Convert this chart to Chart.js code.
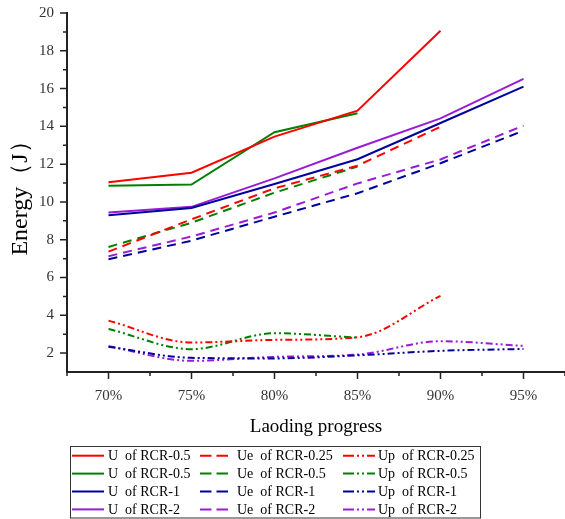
<!DOCTYPE html>
<html>
<head>
<title>Energy vs loading progress</title>
<script src="https://cdn.jsdelivr.net/npm/chart.js"></script>
<style>
    body {
        margin: 0;
        background: #fff;
    }
    #chart-box {
        width: 565px;
        height: 519px;
    }
</style>
</head>
<body>

<div id="chart-box">
    <canvas id="energyChart" width="565" height="519"></canvas>
</div>

<script>
    const labels = ['70%', '75%', '80%', '85%', '90%', '95%'];
    const yTicks = [2, 4, 6, 8, 10, 12, 14, 16, 18, 20];

    // total energy U
    const uRcr025 = [11.04, 11.55, 13.46, 14.83, 19.06];
    const uRcr05 = [10.86, 10.92, 13.69, 14.69];
    const uRcr1 = [9.30, 9.68, 10.95, 12.26, 14.18, 16.10];
    const uRcr2 = [9.44, 9.74, 11.25, 12.87, 14.42, 16.51];

    // elastic energy Ue
    const ueRcr025 = [7.37, 9.08, 10.72, 11.92, 13.98];
    const ueRcr05 = [7.62, 8.90, 10.49, 11.87];
    const ueRcr1 = [6.97, 7.95, 9.22, 10.46, 12.05, 13.77];
    const ueRcr2 = [7.13, 8.17, 9.44, 10.98, 12.25, 14.04];

    // dissipated energy Up
    const upRcr025 = [3.72, 2.56, 2.70, 2.84, 5.03];
    const upRcr05 = [3.28, 2.21, 3.05, 2.82];
    const upRcr1 = [2.34, 1.75, 1.72, 1.88, 2.12, 2.22];
    const upRcr2 = [2.36, 1.59, 1.80, 1.92, 2.63, 2.38];

    const legendNames = [
        'U  of RCR-0.5', 'U  of RCR-0.5', 'U  of RCR-1', 'U  of RCR-2',
        'Ue  of RCR-0.25', 'Ue  of RCR-0.5', 'Ue  of RCR-1', 'Ue  of RCR-2',
        'Up  of RCR-0.25', 'Up  of RCR-0.5', 'Up  of RCR-1', 'Up  of RCR-2'
    ];
    const seriesData = [
        uRcr025, uRcr05, uRcr1, uRcr2,
        ueRcr025, ueRcr05, ueRcr1, ueRcr2,
        upRcr025, upRcr05, upRcr1, upRcr2
    ];

    const colors = ['#ff0000', '#008000', '#00009c', '#9a1ad6'];
    const dashes = [[], [9, 6], [7, 3, 2, 3, 2, 3]];
    const legendDashes = [[], [11.5, 5], [11, 3, 2, 3, 2, 3]];
    const serif = '"Liberation Serif", "Times New Roman", serif';

    const datasets = seriesData.map((d, i) => {
        const kind = Math.floor(i / 4);
        return {
            label: legendNames[i],
            data: d,
            borderColor: colors[i % 4],
            backgroundColor: colors[i % 4],
            borderWidth: 2,
            borderDash: dashes[kind],
            pointRadius: 0,
            fill: false,
            tension: kind === 2 ? 0.4 : 0,
            cubicInterpolationMode: kind === 2 ? 'monotone' : 'default'
        };
    });

    // minor ticks + boxed legend in 3 columns
    const axisExtras = {
        id: 'axisExtras',
        afterDraw(chart) {
            const ctx = chart.ctx;
            const xs = chart.scales.x;
            const ys = chart.scales.y;
            const area = chart.chartArea;
            ctx.save();
            ctx.strokeStyle = '#222';
            ctx.lineWidth = 1.5;
            ctx.beginPath();
            yTicks.forEach(v => {
                const py = ys.getPixelForValue(v);
                ctx.moveTo(area.left - 7, py);
                ctx.lineTo(area.left, py);
                const pm = ys.getPixelForValue(v - 1);
                if (v - 1 > ys.min) {
                    ctx.moveTo(area.left - 4, pm);
                    ctx.lineTo(area.left, pm);
                }
            });
            for (let i = 0; i <= labels.length; i++) {
                if (i < labels.length) {
                    const px = xs.getPixelForValue(i);
                    ctx.moveTo(px, area.bottom);
                    ctx.lineTo(px, area.bottom + 7);
                }
                const pm = xs.getPixelForValue(i - 0.5);
                ctx.moveTo(pm, area.bottom);
                ctx.lineTo(pm, area.bottom + 4);
            }
            ctx.stroke();

            // legend
            ctx.lineWidth = 1;
            ctx.strokeStyle = '#333';
            ctx.strokeRect(70.5, 446.5, 410, 71.5);
            const sampleX = [72, 200, 343];
            const sampleLen = [32, 28, 32];
            const textX = [108, 237, 378];
            ctx.font = '14px ' + serif;
            ctx.textBaseline = 'middle';
            ctx.fillStyle = '#000';
            chart.data.datasets.forEach((ds, i) => {
                const col = Math.floor(i / 4);
                const row = i % 4;
                const y = 455.7 + row * 17.9;
                ctx.save();
                ctx.strokeStyle = ds.borderColor;
                ctx.lineWidth = 2;
                ctx.setLineDash(legendDashes[col]);
                ctx.beginPath();
                ctx.moveTo(sampleX[col], y);
                ctx.lineTo(sampleX[col] + sampleLen[col], y);
                ctx.stroke();
                ctx.restore();
                ctx.fillText(ds.label, textX[col], y + 1);
            });
            ctx.restore();
        }
    };

    new Chart(document.getElementById('energyChart'), {
        type: 'line',
        data: {
            labels: labels,
            datasets: datasets
        },
        options: {
            responsive: false,
            animation: false,
            devicePixelRatio: 1,
            layout: {
                padding: { top: 13, right: 0, left: 0, bottom: 81 }
            },
            plugins: {
                legend: { display: false },
                tooltip: { enabled: false }
            },
            scales: {
                x: {
                    type: 'category',
                    offset: true,
                    afterFit: s => { s.height = 66; },
                    grid: { display: false, drawTicks: false },
                    border: { display: true, color: '#222', width: 2 },
                    ticks: {
                        color: '#333',
                        padding: 15,
                        font: { family: serif, size: 15 }
                    },
                    title: {
                        display: true,
                        text: 'Laoding progress',
                        color: '#000',
                        font: { family: serif, size: 19 },
                        padding: { top: 0, bottom: 0 }
                    }
                },
                y: {
                    min: 1,
                    max: 20,
                    afterBuildTicks: s => { s.ticks = yTicks.map(v => ({ value: v })); },
                    afterFit: s => {
                        s.width = 67;
                        s.paddingTop = 0;
                        s.paddingBottom = 0;
                    },
                    grid: { display: false, drawTicks: false },
                    border: { display: true, color: '#222', width: 2 },
                    ticks: {
                        color: '#333',
                        padding: 13,
                        font: { family: serif, size: 15 }
                    },
                    title: {
                        display: true,
                        text: 'Energy（J）',
                        color: '#000',
                        font: { family: serif, size: 24 },
                        padding: { top: 6, bottom: 0 }
                    }
                }
            }
        },
        plugins: [axisExtras]
    });
</script>

</body>
</html>
